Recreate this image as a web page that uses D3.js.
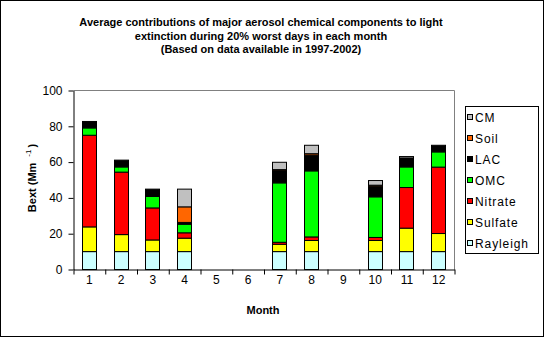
<!DOCTYPE html>
<html><head><meta charset="utf-8">
<script src="https://cdn.jsdelivr.net/npm/d3@7"></script>
<style>
html,body{margin:0;padding:0;background:#fff;}
svg{display:block;font-family:"Liberation Sans",Arial,sans-serif;}
</style></head>
<body><div id="chart"></div>
<script>
const months = ["1","2","3","4","5","6","7","8","9","10","11","12"];
const seriesNames = ["Rayleigh","Sulfate","Nitrate","OMC","LAC","Soil","CM"];
const seriesColors = ["#CCFFFF","#FFFF00","#FF0000","#00FF00","#000000","#FF6600","#C0C0C0"];
const rayleigh = [10,10,10,10,0,0,10,10,0,10,10,10];
const sulfate  = [13.8,9.5,6.5,7.5,0,0,4.1,6.2,0,6.2,13.1,10.1];
const nitrate  = [51.2,34.9,17.9,3.0,0,0,1.1,2.0,0,1.7,22.7,37.1];
const omc      = [4.1,2.9,6.4,4.8,0,0,33.2,36.9,0,22.7,11.5,8.5];
const lac      = [3.6,3.8,4.1,1.0,0,0,7.1,8.8,0,5.9,5.0,3.7];
const soil     = [0,0,0,8.7,0,0,0.3,0.8,0,0.6,0,0];
const cm       = [0,0,0,9.9,0,0,4.1,4.7,0,2.6,0.8,0];
const yTicks = [0,20,40,60,80,100];
const titleLines = ["Average contributions of major aerosol chemical components to light",
  "extinction during 20% worst days in each month",
  "(Based on data available in 1997-2002)"];

const W = 545, H = 338;
const svg = d3.select("#chart").append("svg").attr("width", W).attr("height", H);
svg.append("rect").attr("x",0.5).attr("y",0.5).attr("width",543).attr("height",336)
  .attr("fill","#fff").attr("stroke","#000");

const pl = 73.5, pr = 454.5, pt = 90.5, pb = 269.5;
const x = d3.scaleBand().domain(months).range([pl, pr]).paddingInner(0.52).paddingOuter(0.26);
const xb = d3.scaleLinear().domain([0,12]).range([pl, pr]);
const y = d3.scaleLinear().domain([0,100]).range([pb, pt]);

// plot frame (gray top/right)
svg.append("path").attr("d", `M${pl},${pt}H${pr}V${pb}`).attr("fill","none").attr("stroke","#808080");

const seriesVals = [rayleigh, sulfate, nitrate, omc, lac, soil, cm];
const rows = months.map((m,i) => {
  const r = {month:m};
  seriesNames.forEach((s,k) => r[s] = seriesVals[k][i]);
  return r;
});
const stack = d3.stack().keys(seriesNames)(rows);
stack.forEach((layer,k) => {
  svg.append("g").selectAll("rect").data(layer.filter(d => d[1]-d[0] > 0)).join("rect")
    .attr("x", d => Math.round(x(d.data.month)) + 0.5)
    .attr("width", Math.round(x.bandwidth()) - 1)
    .attr("y", d => y(d[1]))
    .attr("height", d => y(d[0]) - y(d[1]))
    .attr("fill", seriesColors[k])
    .attr("stroke", "#000").attr("stroke-width", 1);
});

// y axis
const ya = svg.append("g").attr("transform", `translate(${pl},0)`)
  .call(d3.axisLeft(y).tickValues(yTicks).tickSize(5).tickPadding(6).tickSizeOuter(0));
ya.select(".domain").attr("stroke","#000");
ya.selectAll("text").attr("font-size","12px").attr("font-family","Liberation Sans, Arial").attr("fill","#000");

// x axis ticks at boundaries
const xa = svg.append("g").attr("transform", `translate(0,${pb})`)
  .call(d3.axisBottom(xb).tickValues(d3.range(0,13)).tickSize(5).tickFormat("").tickSizeOuter(0));
xa.select(".domain").attr("stroke","#000");
const xl = svg.append("g").attr("transform", `translate(0,${pb})`)
  .call(d3.axisBottom(x).tickSize(0).tickPadding(6));
xl.select(".domain").remove();
xl.selectAll("text").attr("font-size","12px").attr("font-family","Liberation Sans, Arial").attr("fill","#000");

// titles
svg.append("text").attr("text-anchor","middle").attr("font-weight","bold").attr("font-size","11px")
  .selectAll("tspan").data(titleLines).join("tspan")
  .attr("x", 261).attr("y", (d,i) => 26 + i*13.5).text(d => d);

svg.append("text").attr("x",263).attr("y",314).attr("text-anchor","middle")
  .attr("font-weight","bold").attr("font-size","11px").text("Month");

const yt = svg.append("text").attr("transform","translate(36,178) rotate(-90)")
  .attr("text-anchor","middle").attr("font-weight","bold").attr("font-size","11px");
yt.append("tspan").text("Bext (Mm");
yt.append("tspan").attr("dx","6").attr("dy","-5").attr("font-size","8px").attr("font-weight","normal").text("-1");
yt.append("tspan").attr("dx","2").attr("dy","5").text(")");

// legend
const lg = svg.append("g");
lg.append("rect").attr("x",465.5).attr("y",106.5).attr("width",73).attr("height",147)
  .attr("fill","#fff").attr("stroke","#000");
const legOrder = seriesNames.map((s,k)=>k).reverse();
const li = lg.selectAll("g.it").data(legOrder).join("g").attr("class","it")
  .attr("transform",(d,i)=>`translate(0,${117.5 + i*21})`);
li.append("rect").attr("x",467.5).attr("y",-3).attr("width",5).attr("height",5)
  .attr("fill", k => seriesColors[k]).attr("stroke","#000");
li.append("text").attr("x",475).attr("y",4.5).attr("font-size","12px").attr("letter-spacing","0.9px")
  .text(k => seriesNames[k]);
</script></body></html>
